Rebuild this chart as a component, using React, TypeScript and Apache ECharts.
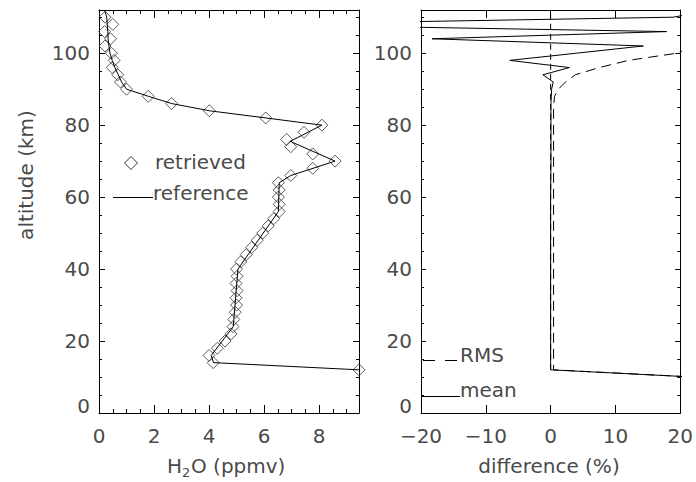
import React, { useEffect, useRef } from "react";
import * as echarts from "echarts";

// ---------------- data ----------------
// Left panel: H2O profile (ppmv) vs altitude (km)
const retrievedAlt = [110, 108, 106, 104, 102, 100, 98, 96, 94, 92, 90, 88, 86, 84, 82, 80, 78, 76, 74, 72, 70, 68, 66, 64, 62, 60, 58, 56, 54, 52, 50, 48, 46, 44, 42, 40, 38, 36, 34, 32, 30, 28, 26, 24, 22, 20, 18, 16, 14, 12];
const retrievedH2O = [0.22, 0.5, 0.2, 0.42, 0.22, 0.45, 0.55, 0.48, 0.68, 0.78, 1.0, 1.79, 2.64, 4.01, 6.06, 8.1, 7.45, 6.82, 6.97, 7.77, 8.58, 7.77, 6.97, 6.52, 6.55, 6.52, 6.55, 6.55, 6.35, 6.15, 5.95, 5.75, 5.55, 5.35, 5.15, 5.0, 5.02, 4.98, 5.02, 4.98, 5.0, 4.95, 4.9, 4.87, 4.8, 4.58, 4.3, 4.0, 4.15, 9.45];

const referenceAlt = [112, 110, 108, 106, 104, 102, 100, 98, 96, 94, 92, 90, 88, 86, 84, 82, 80, 75.5, 70, 66, 64, 56, 40, 24, 16, 14, 12];
const referenceH2O = [0.2, 0.28, 0.3, 0.32, 0.33, 0.36, 0.4, 0.48, 0.58, 0.7, 0.82, 1.0, 1.8, 2.64, 4.01, 6.06, 8.1, 6.95, 8.58, 6.97, 6.55, 6.52, 5.05, 4.88, 4.08, 4.16, 9.45];

// Right panel: difference (%) vs altitude (km)
const diffAlt = [112, 110, 108, 106, 104, 102, 100, 98, 96, 94, 92, 90, 88, 86, 84, 82, 80, 70, 60, 50, 40, 30, 20, 14, 12, 10];
const meanDiff = [25, 18.9, -46, 17.9, -18.3, 14.3, 4, -6.3, 2.9, -1.2, 0.4, 0.15, 0.1, 0.05, 0.05, 0.05, 0.05, 0.05, 0.0, 0.0, 0.0, 0.0, 0.0, 0.0, 0.0, 22];
const rmsDiff = [40, 40, 40, 40, 30, 22, 19.5, 12, 7.5, 3.8, 2.3, 1.2, 0.6, 0.5, 0.45, 0.45, 0.45, 0.45, 0.45, 0.45, 0.45, 0.45, 0.45, 0.45, 0.45, 22];
const zeroLineAlt = [12, 112];
const zeroLineDiff = [0, 0];

// tick labels
const altTickLabels = [0, 20, 40, 60, 80, 100];
const h2oTickLabels = [0, 2, 4, 6, 8];
const diffTickLabels = [-20, -10, 0, 10, 20];

const FONT = "DejaVu Sans";
const TXT = "#4a4a4a";
const INK = "#000";

function pairs(xs: number[], ys: number[]) {
  return xs.map((x, i) => [x, ys[i]]);
}

const has = (list: number[], v: number) => list.some((t) => Math.abs(t - v) < 1e-6);

function xAx(grid: number, pos: "bottom" | "top", min: number, max: number, interval: number, tickLen: number, labels: ((v: number) => string) | null, line: boolean) {
  return {
    type: "value",
    gridIndex: grid,
    position: pos,
    min,
    max,
    interval,
    axisLine: { show: line, onZero: false, lineStyle: { color: INK, width: 1 } },
    axisTick: { show: true, inside: true, length: tickLen, lineStyle: { color: INK, width: 1 } },
    axisLabel: labels
      ? { show: true, formatter: labels, margin: 13, color: TXT, fontFamily: FONT, fontSize: 20 }
      : { show: false },
    splitLine: { show: false },
  };
}

function yAx(grid: number, pos: "left" | "right", interval: number, tickLen: number, labels: boolean, line: boolean) {
  return {
    type: "value",
    gridIndex: grid,
    position: pos,
    min: 0,
    max: 112,
    interval,
    axisLine: { show: line, onZero: false, lineStyle: { color: INK, width: 1 } },
    axisTick: { show: true, inside: true, length: tickLen, lineStyle: { color: INK, width: 1 } },
    axisLabel: labels
      ? {
          show: true,
          margin: 9,
          color: TXT,
          fontFamily: FONT,
          fontSize: 20,
          formatter: (v: number) => (has(altTickLabels, v) ? (v === 0 ? "{z|0}" : String(v)) : ""),
          rich: { z: { fontFamily: FONT, fontSize: 20, color: TXT, padding: [0, 0, 15, 0] } },
        }
      : { show: false },
    splitLine: { show: false },
  };
}

const h2oFmt = (v: number) => (has(h2oTickLabels, v) ? String(v) : "");
const diffFmt = (v: number) => (has(diffTickLabels, v) ? (v < 0 ? "\u2212" + Math.abs(v) : String(v)) : "");

export default function App() {
  const ref = useRef<HTMLDivElement>(null);
  useEffect(() => {
    if (!ref.current) return;
    const chart = echarts.init(ref.current, null, { renderer: "svg" });
    const text = (t: string, x: number, y: number, extra: any = {}) => ({
      type: "text",
      x,
      y,
      ...extra,
      style: { text: t, fontFamily: FONT, fontSize: 20, fill: TXT, align: "left", verticalAlign: "middle", ...(extra.style || {}) },
    });
    const option: any = {
      animation: false,
      backgroundColor: "#fff",
      grid: [
        { left: 99, top: 10, width: 260, height: 403, containLabel: false },
        { left: 421, top: 10, width: 260, height: 403, containLabel: false },
      ],
      xAxis: [
        xAx(0, "bottom", 0, 9.45, 2, 8, h2oFmt, true),
        xAx(0, "bottom", 0, 9.45, 0.5, 4, null, false),
        xAx(0, "top", 0, 9.45, 2, 8, null, true),
        xAx(0, "top", 0, 9.45, 0.5, 4, null, false),
        xAx(1, "bottom", -20, 20, 10, 8, diffFmt, true),
        xAx(1, "top", -20, 20, 10, 8, null, true),
      ],
      yAxis: [
        yAx(0, "left", 20, 6, true, true),
        yAx(0, "left", 5, 3, false, false),
        yAx(0, "right", 20, 6, false, true),
        yAx(0, "right", 5, 3, false, false),
        yAx(1, "left", 20, 5, true, true),
        yAx(1, "left", 5, 3, false, false),
        yAx(1, "right", 20, 5, false, true),
        yAx(1, "right", 5, 3, false, false),
      ],
      series: [
        {
          name: "reference",
          type: "line",
          xAxisIndex: 0,
          yAxisIndex: 0,
          data: pairs(referenceH2O, referenceAlt),
          showSymbol: false,
          clip: true,
          lineStyle: { color: INK, width: 1 },
        },
        {
          name: "retrieved",
          type: "scatter",
          xAxisIndex: 0,
          yAxisIndex: 0,
          data: pairs(retrievedH2O, retrievedAlt),
          symbol: "diamond",
          symbolSize: 12,
          itemStyle: { color: "transparent", borderColor: "#333", borderWidth: 1 },
        },
        {
          name: "zero",
          type: "line",
          xAxisIndex: 4,
          yAxisIndex: 4,
          data: pairs(zeroLineDiff, zeroLineAlt),
          showSymbol: false,
          lineStyle: { color: INK, width: 1, type: [6, 4] },
        },
        {
          name: "RMS",
          type: "line",
          xAxisIndex: 4,
          yAxisIndex: 4,
          data: pairs(rmsDiff, diffAlt),
          showSymbol: false,
          clip: true,
          lineStyle: { color: INK, width: 1, type: [10, 6] },
        },
        {
          name: "mean",
          type: "line",
          xAxisIndex: 4,
          yAxisIndex: 4,
          data: pairs(meanDiff, diffAlt),
          showSymbol: false,
          clip: true,
          lineStyle: { color: INK, width: 1 },
        },
      ],
      graphic: [
        text("altitude (km)", 26, 175, { rotation: Math.PI / 2, style: { align: "center" } }),
        text("H", 167, 466),
        text("2", 182, 472, { style: { fontSize: 13 } }),
        text("O (ppmv)", 191, 466),
        text("difference (%)", 549, 466, { style: { align: "center" } }),
        {
          type: "polygon",
          shape: { points: [[131, 156.5], [137.5, 163], [131, 169.5], [124.5, 163]] },
          style: { fill: "none", stroke: "#333", lineWidth: 1 },
        },
        text("retrieved", 155, 161.5),
        { type: "line", shape: { x1: 113, y1: 197.5, x2: 153, y2: 197.5 }, style: { stroke: INK, lineWidth: 1 } },
        text("reference", 153, 193),
        { type: "line", shape: { x1: 423, y1: 360.5, x2: 458, y2: 360.5 }, style: { stroke: INK, lineWidth: 1, lineDash: [12, 10] } },
        text("RMS", 460, 355),
        { type: "line", shape: { x1: 421, y1: 396.5, x2: 460, y2: 396.5 }, style: { stroke: INK, lineWidth: 1 } },
        text("mean", 460, 390),
      ],
    };
    chart.setOption(option);
    return () => chart.dispose();
  }, []);
  return <div ref={ref} style={{ position: "fixed", left: 0, top: 0, width: 696, height: 482 }} />;
}
